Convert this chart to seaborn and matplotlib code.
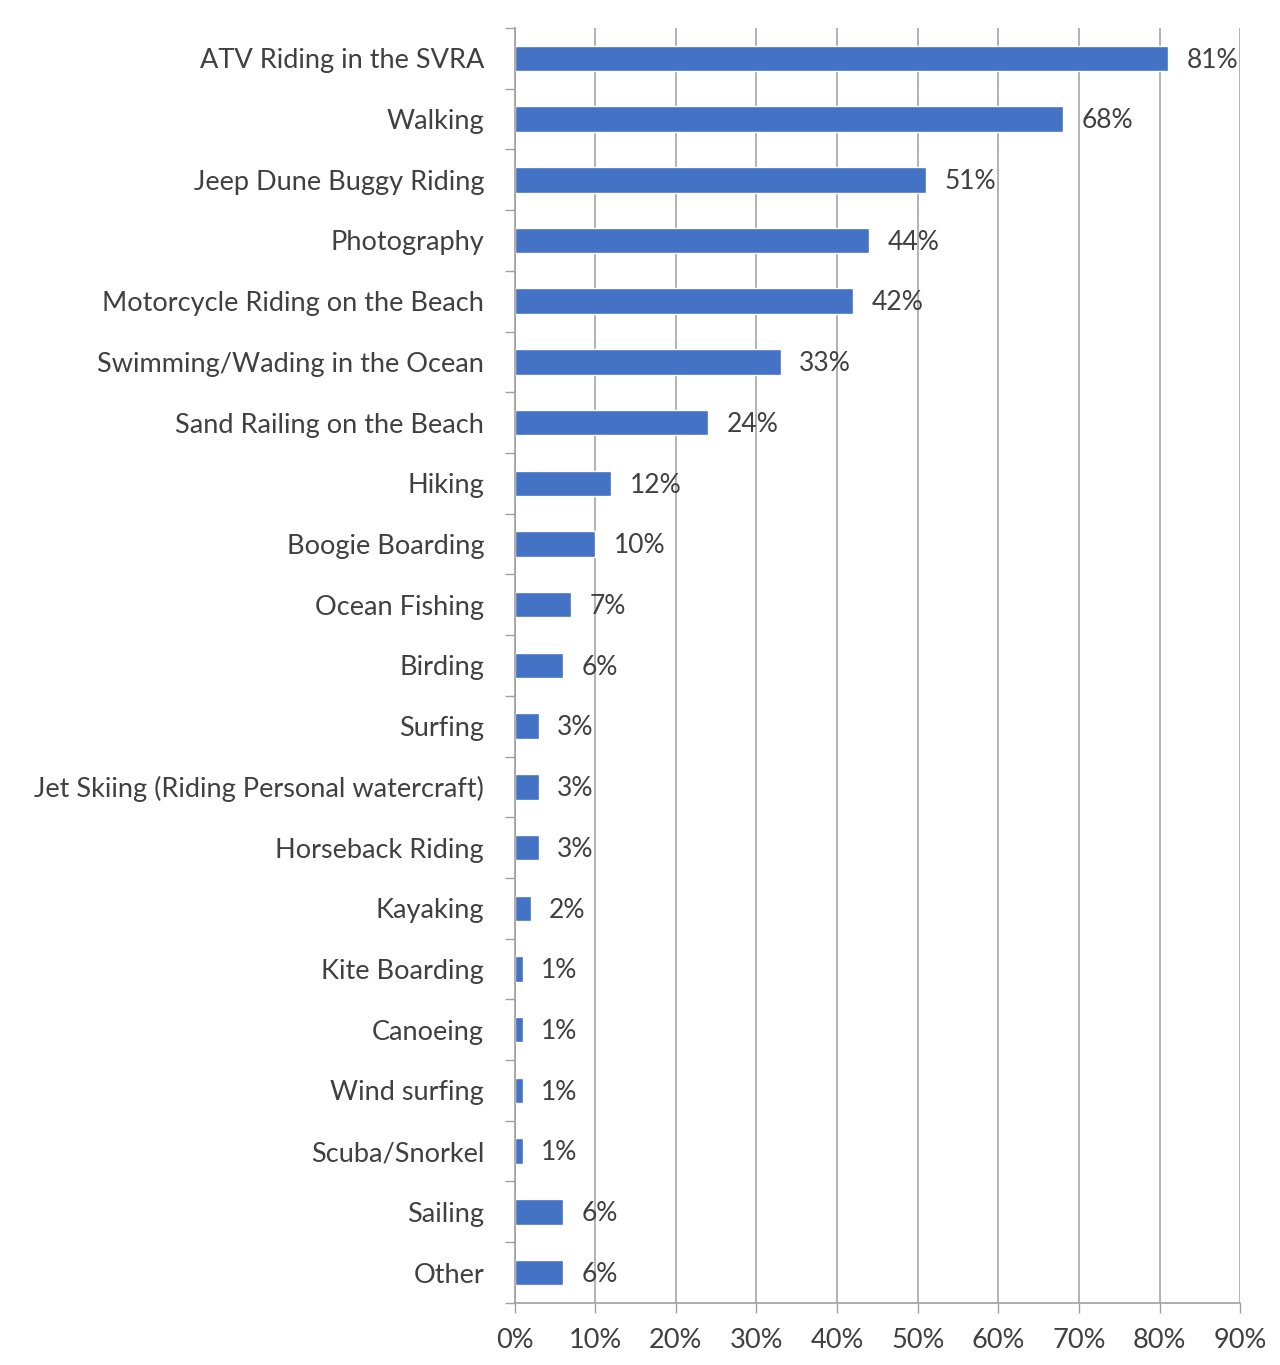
import matplotlib
matplotlib.use("Agg")
import matplotlib.pyplot as plt
import seaborn as sns
import pandas as pd
import numpy as np
from matplotlib.ticker import FixedLocator

activities = [
    "ATV Riding in the SVRA",
    "Walking",
    "Jeep Dune Buggy Riding",
    "Photography",
    "Motorcycle Riding on the Beach",
    "Swimming/Wading in the Ocean",
    "Sand Railing on the Beach",
    "Hiking",
    "Boogie Boarding",
    "Ocean Fishing",
    "Birding",
    "Surfing",
    "Jet Skiing (Riding Personal watercraft)",
    "Horseback Riding",
    "Kayaking",
    "Kite Boarding",
    "Canoeing",
    "Wind surfing",
    "Scuba/Snorkel",
    "Sailing",
    "Other",
]
shares = [81, 68, 51, 44, 42, 33, 24, 12, 10, 7, 6, 3, 3, 3, 2, 1, 1, 1, 1, 6, 6]
x_ticks = [0, 10, 20, 30, 40, 50, 60, 70, 80, 90]

df = pd.DataFrame({"activity": activities, "share": shares})

sns.set_theme(style="white")
plt.rcParams["font.family"] = ["Lato", "DejaVu Sans"]
text_color = "#404040"

fig = plt.figure(figsize=(12.8, 13.65), dpi=100)
ax = fig.add_axes([0.402, 0.0455, 0.567, 0.934])

sns.barplot(data=df, x="share", y="activity", color="#4472C4", width=0.42,
            saturation=1, ax=ax, orient="h")

ax.set_xlim(0, 90)
ax.set_xticks(x_ticks)
ax.set_xticklabels([f"{t}%" for t in x_ticks], fontsize=19.5, color=text_color)
ax.set_xlabel("")
ax.set_ylabel("")
ax.tick_params(axis="y", labelsize=19.5, labelcolor=text_color, length=0, pad=22)
ax.tick_params(axis="x", length=7, width=1, color="#a0a0a0", direction="out",
               bottom=True, pad=11)

# category boundary ticks on the value axis
ax.yaxis.set_minor_locator(FixedLocator(np.arange(-0.5, len(activities), 1.0)))
ax.tick_params(axis="y", which="minor", left=True, length=7, width=1, color="#a0a0a0")

ax.grid(axis="x", color="#a6a6a6", linewidth=1.2)
ax.set_axisbelow(True)
for side in ["top", "right"]:
    ax.spines[side].set_visible(False)
for side in ["left", "bottom"]:
    ax.spines[side].set_color("#a0a0a0")
    ax.spines[side].set_linewidth(1.2)

for i, v in enumerate(shares):
    ax.text(v + 2.3, i + 0.03, f"{v}%", va="center", ha="left", fontsize=19,
            color=text_color)

fig.savefig("out.png", dpi=100, facecolor="white")
